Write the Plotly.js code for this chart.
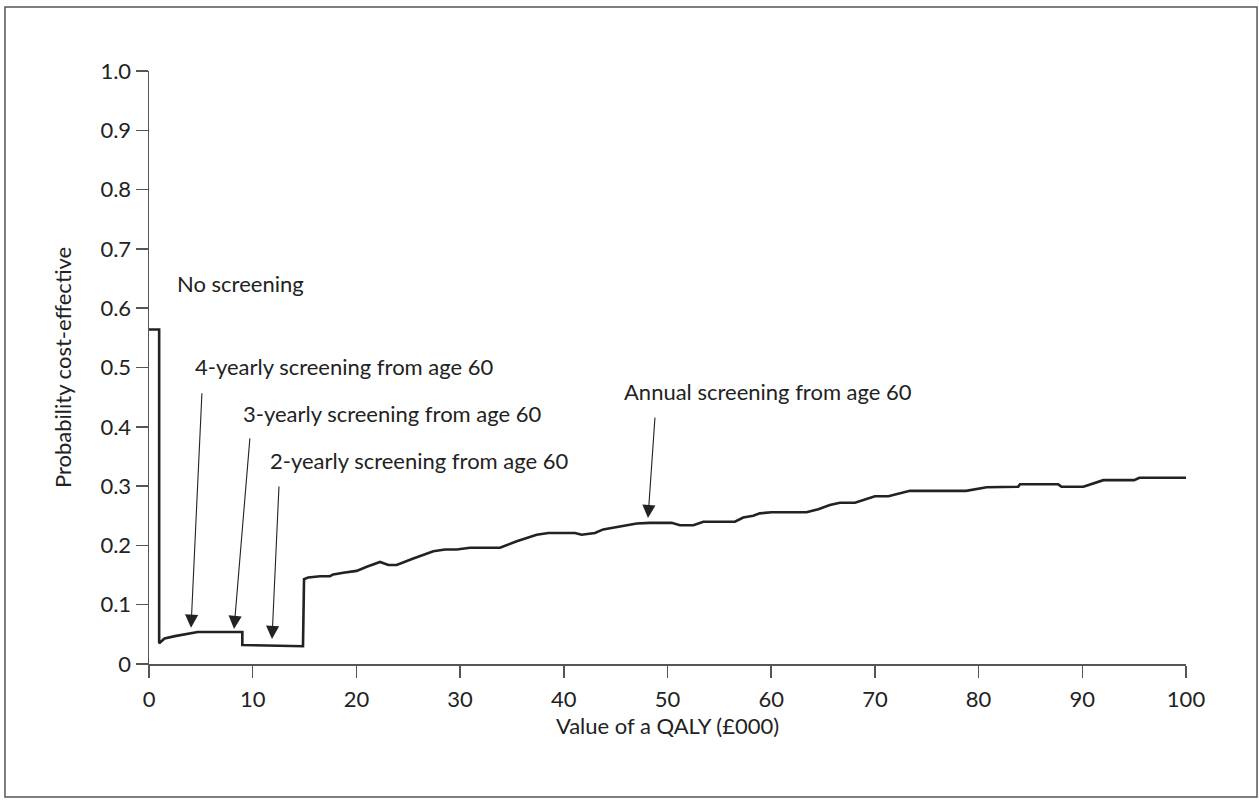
<!DOCTYPE html>
<html>
<head>
<meta charset="utf-8">
<script src="https://cdn.plot.ly/plotly-3.0.1.min.js"></script>
<style>
  html, body { margin: 0; padding: 0; background: #fff; }
  #chart { width: 1259px; height: 800px; }
</style>
</head>
<body>
<div id="chart"></div>
<script>
// Value of a QALY (£000)
const qalyValues = [0, 0.98, 0.98, 1.5, 2.5, 3.7, 4.7, 9.0, 9.0, 14.85, 14.95, 15.36, 16.5, 17.45, 17.77, 18.74, 20.02, 21.0, 22.28, 23.08, 23.88, 25.49, 27.42, 28.55, 29.67, 30.95, 33.85, 35.46, 37.39, 38.51, 41.08, 41.72, 43.0, 43.8, 45.42, 47.03, 48.3, 50.4, 51.2, 52.5, 53.45, 56.5, 57.3, 58.27, 58.9, 60.03, 63.4, 64.54, 65.66, 66.63, 68.08, 68.88, 70.0, 71.3, 72.42, 73.38, 78.8, 80.13, 80.77, 83.82, 83.99, 87.68, 88.0, 90.1, 92.03, 95.0, 95.5, 100];
// Probability cost-effective
const probValues = [0.564, 0.564, 0.035, 0.043, 0.047, 0.051, 0.054, 0.054, 0.032, 0.030, 0.143, 0.146, 0.148, 0.148, 0.151, 0.154, 0.157, 0.164, 0.172, 0.167, 0.167, 0.178, 0.190, 0.193, 0.193, 0.196, 0.196, 0.207, 0.218, 0.221, 0.221, 0.218, 0.221, 0.227, 0.232, 0.237, 0.238, 0.238, 0.234, 0.234, 0.240, 0.240, 0.247, 0.250, 0.254, 0.256, 0.256, 0.261, 0.268, 0.272, 0.272, 0.277, 0.283, 0.283, 0.288, 0.292, 0.292, 0.296, 0.298, 0.299, 0.303, 0.303, 0.299, 0.299, 0.310, 0.310, 0.314, 0.314];

const xTickVals = [0, 10, 20, 30, 40, 50, 60, 70, 80, 90, 100];
const xTickText = ['0', '10', '20', '30', '40', '50', '60', '70', '80', '90', '100'];
const yTickVals = [0, 0.1, 0.2, 0.3, 0.4, 0.5, 0.6, 0.7, 0.8, 0.9, 1.0];
const yTickText = ['0', '0.1', '0.2', '0.3', '0.4', '0.5', '0.6', '0.7', '0.8', '0.9', '1.0'];

// Label texts and their anchor points (data coords)
const labelTexts = ['No screening', '4-yearly screening from age 60', '3-yearly screening from age 60', '2-yearly screening from age 60', 'Annual screening from age 60'];
const labelX = [2.5, 4.24, 8.87, 11.47, 45.6];
const labelY = [0.642, 0.501, 0.423, 0.344, 0.459];

// Arrows: tail -> tip (data coords)
const arrowTailX = [5.11, 9.74, 12.54, 48.8];
const arrowTailY = [0.459, 0.383, 0.302, 0.418];
const arrowTipX = [4.05, 8.2, 11.86, 48.12];
const arrowTipY = [0.061, 0.059, 0.042, 0.246];

const FONT = 'Lato, "Open Sans", sans-serif';
const INK = '#222';
const AXIS = '#555';
const FS = 22;

const annotations = [];
labelTexts.forEach((t, i) => {
  annotations.push({
    x: labelX[i], y: labelY[i], xref: 'x', yref: 'y',
    text: t, showarrow: false, xanchor: 'left', yanchor: 'middle',
    font: { family: FONT, size: FS, color: INK }
  });
});
arrowTipX.forEach((_, i) => {
  annotations.push({
    x: arrowTipX[i], y: arrowTipY[i], xref: 'x', yref: 'y',
    ax: arrowTailX[i], ay: arrowTailY[i], axref: 'x', ayref: 'y',
    text: '', showarrow: true, arrowhead: 2, arrowsize: 2.4, arrowwidth: 1.1,
    arrowcolor: INK, standoff: 0, startstandoff: 0
  });
});

const trace = {
  x: qalyValues, y: probValues, type: 'scatter', mode: 'lines',
  line: { color: INK, width: 2.6 }, hoverinfo: 'skip', cliponaxis: false
};

const layout = {
  width: 1259, height: 800,
  margin: { l: 149, r: 73, t: 71, b: 136, pad: 0 },
  paper_bgcolor: '#fff', plot_bgcolor: '#fff',
  showlegend: false,
  font: { family: FONT, size: FS, color: INK },
  xaxis: {
    range: [0, 100], tickvals: xTickVals, ticktext: xTickText,
    showgrid: false, zeroline: false, showline: true, linecolor: AXIS, linewidth: 1.5,
    ticks: 'outside', ticklen: 12, tickwidth: 1.5, tickcolor: AXIS,
    ticklabelstandoff: 3,
    tickfont: { family: FONT, size: FS, color: INK },
    title: { text: 'Value of a QALY (£000)', font: { family: FONT, size: FS, color: INK }, standoff: 0 },
    fixedrange: true
  },
  yaxis: {
    range: [0, 1], tickvals: yTickVals, ticktext: yTickText,
    showgrid: false, zeroline: false, showline: true, linecolor: AXIS, linewidth: 1.5,
    ticks: 'outside', ticklen: 12, tickwidth: 1.5, tickcolor: AXIS,
    tickfont: { family: FONT, size: FS, color: INK },
    title: { text: 'Probability cost-effective', font: { family: FONT, size: FS, color: INK }, standoff: 22 },
    fixedrange: true
  },
  shapes: [{
    type: 'rect', xref: 'paper', yref: 'paper',
    x0: -0.1389, x1: 1.0685, y0: -0.2243, y1: 1.1079,
    line: { color: AXIS, width: 1.5 }, fillcolor: 'rgba(0,0,0,0)', layer: 'below'
  }],
  annotations: annotations
};

Plotly.newPlot('chart', [trace], layout, { displayModeBar: false, staticPlot: true });
</script>
</body>
</html>
